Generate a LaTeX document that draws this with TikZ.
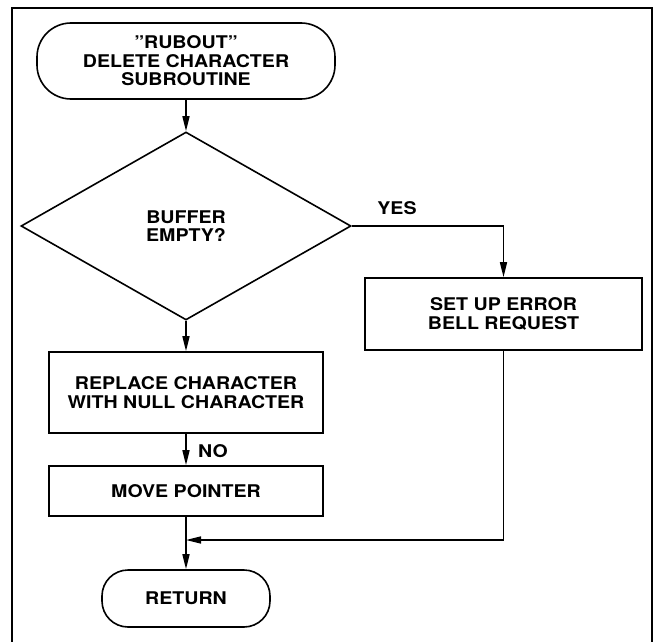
\documentclass[tikz,border=0pt]{standalone}
\usepackage{fontspec}
\setmainfont{TeX Gyre Heros}[FakeStretch=1.12]
\usetikzlibrary{shapes.geometric,arrows.meta}
\tikzset{
  every node/.style={font=\bfseries\fontsize{17.5}{18.5}\selectfont, align=center},
  line/.style={line width=1.6pt},
  arr/.style={line width=1.6pt, -{Triangle[length=15pt,width=7pt]}},
  term/.style={draw, line width=1.6pt, rectangle, rounded corners=34pt, inner sep=0pt},
  proc/.style={draw, line width=1.6pt, rectangle, inner sep=0pt},
  decis/.style={draw, line width=1.6pt, diamond, inner sep=0pt},
  lbl/.style={inner sep=0pt}
}
\begin{document}
\begin{tikzpicture}[x=1pt,y=-1pt]
\useasboundingbox (0,0) rectangle (659,642);
\draw[line] (12,645) -- (12,8) -- (652,8) -- (652,645);

\node[term, minimum width=298pt, minimum height=76pt] (start) at (186,61) {\textquotedblright RUBOUT\textquotedblright\\DELETE CHARACTER\\SUBROUTINE};
\node[decis, minimum width=330pt, minimum height=188pt] (dec) at (186,226) {BUFFER\\EMPTY?};
\node[proc, minimum width=274pt, minimum height=81pt] (rep) at (186,392.5) {REPLACE CHARACTER\\WITH NULL CHARACTER};
\node[proc, minimum width=274pt, minimum height=50pt] (mov) at (186,491) {MOVE POINTER};
\node[term, rounded corners=26pt, minimum width=168pt, minimum height=57pt] (ret) at (186,598.5) {RETURN};
\node[proc, minimum width=277pt, minimum height=72pt] (bell) at (503.5,314) {SET UP ERROR\\BELL REQUEST};

\node[lbl] (yes) at (397,208) {YES};
\node[lbl] (no) at (213,451) {NO};
\coordinate (bellturn) at (503.5,226);
\coordinate (join) at (186,540);

\draw[arr] (start.south) -- (dec.north);
\draw[arr] (dec.south) -- (rep.north);
\draw[arr] (rep.south) -- (mov.north);
\draw[line] (dec.east) -- (bellturn);
\draw[arr] (bellturn) -- (bell.north);
\draw[arr] (mov.south) -- (ret.north);
\draw[arr] (bell.south) |- (join);
\end{tikzpicture}
\end{document}
